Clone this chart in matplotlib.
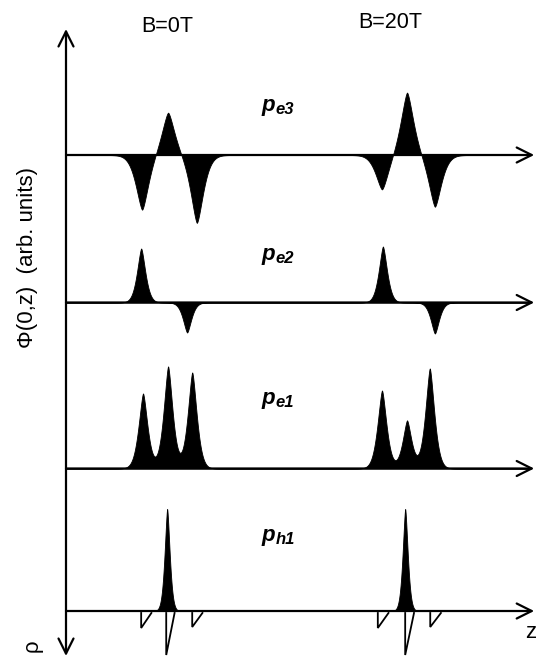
import numpy as np
import matplotlib.pyplot as plt

plt.rcParams['font.family'] = ['Liberation Sans', 'DejaVu Sans']

# --- wavefunction peaks: centre along z (arb. units) and height (arb. units)
# first three peaks: B = 0 T, last ones: B = 20 T
pe3_z = [16.4, 22.0, 28.2, 68.1, 73.5, 79.5]
pe3_amp = [-55, 43, -68, -35, 63, -52]
pe2_z = [16.2, 26.1, 68.3, 79.5]
pe2_amp = [54, -30, 56, -31]
pe1_z = [16.6, 22.0, 27.2, 68.1, 73.5, 78.4]
pe1_amp = [75, 102, 96, 78, 48, 100]
ph1_z = [21.8, 73.1]
ph1_amp = [102, 102]

state_names = ['e3', 'e2', 'e1', 'h1']
state_width = [1.95, 1.3, 1.4, 0.8]

# --- quantum dot potential sketch below the z axis
dot_z = [16.2, 21.6, 27.2, 67.2, 73.1, 78.5]
dot_depth = [15, 42, 14, 15, 42, 14]
dot_size = [2.2, 1.8, 2.2, 2.3, 1.9, 2.3]

fields = ['B=0T', 'B=20T']


def profile(z, centres, amps, w):
    """ sum of cusp-like peaks """
    out = np.zeros_like(z)
    for c, a in zip(centres, amps):
        out += a * np.exp(-(np.abs(z - c) / w) ** 1.5)
    return out


fig = plt.figure(figsize=(5.36, 6.57), dpi=100)
ax = fig.add_axes((0, 0, 1, 1))
ax.set_xlim(-66 / 4.64, 470 / 4.64)
ax.set_ylim(0, 657)
ax.set_axis_off()

z = np.linspace(0, 100, 4000)
baselines = [502, 354.5, 188.5, 46]
peaks = [(pe3_z, pe3_amp), (pe2_z, pe2_amp), (pe1_z, pe1_amp), (ph1_z, ph1_amp)]
label_y = [546, 397, 253, 116]

arrow = dict(arrowstyle='->,head_length=0.6,head_width=0.3', lw=1.6,
             color='black', mutation_scale=18, shrinkA=0, shrinkB=0)

for base, (cz, amp), w, name, ly in zip(baselines, peaks, state_width, state_names, label_y):
    y = profile(z, cz, amp, w)
    ax.fill_between(z, base, base + y, color='black', lw=0.6)
    ax.annotate('', xy=(100.9, base), xytext=(0, base), arrowprops=arrow)
    # --- state label
    ax.text(42.2, ly, 'p', fontsize=16, fontweight='bold', style='italic',
            ha='left', va='baseline')
    ax.text(45.2, ly - 3, name, fontsize=12, fontweight='bold', style='italic',
            ha='left', va='baseline')

# --- potential profile of the dots
top = baselines[-1] - 2
for zd, d, s in zip(dot_z, dot_depth, dot_size):
    ax.plot([zd, zd, zd + s], [top, top - d, top], c='k', lw=1.3,
            solid_joinstyle='miter')

# --- vertical axis (Phi up, rho down)
arrow2 = dict(arrow)
arrow2['arrowstyle'] = '<->,head_length=0.6,head_width=0.3'
ax.annotate('', xy=(0, 628), xytext=(0, 1), arrowprops=arrow2)

ax.text(21.8, 630, fields[0], fontsize=15.5, ha='center', va='center')
ax.text(69.8, 635, fields[1], fontsize=15.5, ha='center', va='center')
ax.text(-8.4, 400, r'Φ(0,z)  (arb. units)', fontsize=16, rotation=90,
        ha='center', va='center')
ax.text(-7.3, 11, 'ρ', fontsize=16, rotation=90, ha='center', va='center')
ax.text(98.9, 24, 'z', fontsize=16, ha='left', va='center')

fig.savefig('out.png', dpi=100)
